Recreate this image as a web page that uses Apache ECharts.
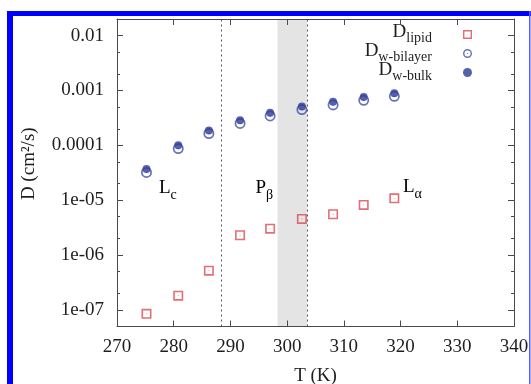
<!DOCTYPE html>
<html>
<head>
<meta charset="utf-8">
<script src="https://cdn.jsdelivr.net/npm/echarts@6/dist/echarts.min.js"></script>
<style>
  html, body { margin: 0; padding: 0; background: #ffffff; }
  #chart { width: 531px; height: 384px; }
</style>
</head>
<body>
<div id="chart"></div>
<script>
// Temperatures (K) of the simulated runs
const temperatures = [275.2, 280.8, 286.2, 291.7, 297.0, 302.6, 308.1, 313.5, 318.9];

// Diffusion coefficients, cm^2/s
const dLipid        = [8.5e-8, 1.82e-7, 5.2e-7, 2.3e-6, 3.03e-6, 4.55e-6, 5.55e-6, 8.2e-6, 1.08e-5];
const dWaterBilayer = [3.2e-5, 8.7e-5, 1.64e-4, 2.5e-4, 3.43e-4, 4.48e-4, 5.45e-4, 6.6e-4, 7.8e-4];
const dWaterBulk    = [3.7e-5, 1.0e-4, 1.87e-4, 2.85e-4, 3.93e-4, 5.1e-4, 6.2e-4, 7.55e-4, 8.9e-4];

// Series subscripts (shown as D_xxx in the key)
const seriesNames = ['lipid', 'w-bilayer', 'w-bulk'];

// Axis ranges
const tRange = [270, 340];
const tStep = 10;
const dRange = [5e-8, 0.02];

// Phase boundaries and the ripple-phase band
const phaseBoundaries = [288.3, 303.5];
const rippleBand = [298.3, 303.5];

// Phase labels: [main letter, subscript]
const phaseLabels = [['L', 'c'], ['P', 'β'], ['L', 'α']];

const FONT = 'Liberation Serif';
const INK = '#1e1e1e';
const FRAME = '#4a4a4a';

// symbols: open square with a centre dot, open ring with a centre dot
const squareSymbol = 'path://M0,0H10V10H0Z M1.6,1.6V8.4H8.4V1.6Z M4.6,4.6H5.4V5.4H4.6Z';
const ringSymbol = 'path://M5,0A5,5 0 1,1 5,10A5,5 0 1,1 5,0Z M5,1.6A3.4,3.4 0 1,0 5,8.4A3.4,3.4 0 1,0 5,1.6Z M4.5,4.5H5.5V5.5H4.5Z';

function pairs(ys) { return temperatures.map((t, i) => [t, ys[i]]); }

function logLabel(v) {
  const e = Math.round(Math.log10(v));
  if (e >= -4) return v.toFixed(-e);
  return '1e-' + String(-e).padStart(2, '0');
}

// minor tick positions (2x and 5x each decade), in log10 units
const minorLogTicks = [];
for (let k = -8; k <= -2; k++) {
  [2, 5].forEach(m => {
    const lv = Math.log10(m * Math.pow(10, k));
    if (lv > Math.log10(dRange[0]) && lv < Math.log10(dRange[1])) minorLogTicks.push(lv);
  });
}

const subRich = {
  m: { fontFamily: FONT, fontSize: 19, lineHeight: 19, padding: [0, 0, 5, 0], color: INK },
  s: { fontFamily: FONT, fontSize: 14, lineHeight: 14, padding: [9, 0, 1, 0], color: INK },
  g: { width: 26, fontSize: 10 }
};

const chart = echarts.init(document.getElementById('chart'), null, { renderer: 'canvas' });

function xAxisDef(pos, labels) {
  return {
    type: 'value', position: pos, min: tRange[0], max: tRange[1], interval: tStep,
    z: 10,
    name: labels ? 'T (K)' : '',
    nameLocation: 'middle', nameGap: 40,
    nameTextStyle: { fontFamily: FONT, fontSize: 19, color: INK },
    axisLine: { show: true, onZero: false, lineStyle: { color: FRAME, width: 1 } },
    axisTick: { show: true, inside: true, length: 6, lineStyle: { color: FRAME } },
    axisLabel: { show: labels, margin: 11, fontFamily: FONT, fontSize: 19, color: INK },
    splitLine: { show: false }
  };
}

function yMajorDef(pos, labels) {
  return {
    type: 'log', logBase: 10, position: pos, min: dRange[0], max: dRange[1],
    z: 10,
    name: labels ? 'D (cm²/s)' : '',
    nameLocation: 'middle', nameGap: 78,
    nameTextStyle: { fontFamily: FONT, fontSize: 19, color: INK, padding: [0, 0, 0, 18] },
    axisLine: { show: true, onZero: false, lineStyle: { color: FRAME, width: 1 } },
    axisTick: { show: true, inside: true, length: 6, lineStyle: { color: FRAME } },
    axisLabel: {
      show: labels, margin: 13, fontFamily: FONT, fontSize: 19, color: INK,
      showMinLabel: false, showMaxLabel: false, formatter: logLabel
    },
    splitLine: { show: false }
  };
}

function yMinorDef(pos) {
  return {
    type: 'value', position: pos,
    min: Math.log10(dRange[0]), max: Math.log10(dRange[1]),
    z: 10,
    axisLine: { show: false },
    axisTick: { show: true, inside: true, length: 3, customValues: minorLogTicks, lineStyle: { color: FRAME } },
    axisLabel: { show: false },
    splitLine: { show: false }
  };
}

const option = {
  animation: false,
  backgroundColor: '#ffffff',
  grid: { left: 117, right: 17, top: 19, bottom: 57.5, containLabel: false, outerBoundsMode: 'none' },
  xAxis: [xAxisDef('bottom', true), xAxisDef('top', false)],
  yAxis: [yMajorDef('left', true), yMajorDef('right', false), yMinorDef('left'), yMinorDef('right')],
  legend: {
    data: seriesNames,
    orient: 'vertical', align: 'right',
    right: 59, top: 22.5, padding: 0,
    itemWidth: 9, itemHeight: 9, itemGap: -5,
    selectedMode: false,
    formatter: n => `{m|D}{s|${n}}{g| }`,
    textStyle: { rich: subRich }
  },
  series: [
    {
      name: 'band', type: 'scatter', data: [], z: 1, silent: true,
      markArea: {
        silent: true,
        itemStyle: { color: '#e4e4e4' },
        data: [[{ xAxis: rippleBand[0] }, { xAxis: rippleBand[1] }]]
      }
    },
    {
      name: 'bounds', type: 'scatter', data: [], z: 2, silent: true,
      markLine: {
        silent: true, symbol: ['none', 'none'],
        label: { show: false },
        lineStyle: { color: '#555555', width: 1, type: [2, 3] },
        data: phaseBoundaries.map(x => ({ xAxis: x }))
      }
    },
    {
      name: seriesNames[0], type: 'scatter', z: 3,
      data: pairs(dLipid),
      symbol: squareSymbol, symbolSize: 10,
      itemStyle: { color: '#dc4a52' },
      emphasis: { disabled: true }
    },
    {
      name: seriesNames[1], type: 'scatter', z: 4,
      data: pairs(dWaterBilayer),
      symbol: ringSymbol, symbolSize: 11,
      itemStyle: { color: '#4350ad' },
      emphasis: { disabled: true }
    },
    {
      name: seriesNames[2], type: 'scatter', z: 5,
      data: pairs(dWaterBulk),
      symbol: 'circle', symbolSize: 8,
      itemStyle: { color: '#2d3a96' },
      emphasis: { disabled: true }
    }
  ],
  graphic: [
    // blue frame around the figure
    { type: 'rect', shape: { x: 7, y: 11, width: 524, height: 5 }, style: { fill: '#0000ff' }, silent: true },
    { type: 'rect', shape: { x: 7, y: 11, width: 6, height: 373 }, style: { fill: '#0000ff' }, silent: true },
    { type: 'rect', shape: { x: 529, y: 11, width: 1.5, height: 373 }, style: { fill: '#5a5aff' }, silent: true },
    // phase labels
    { type: 'text', x: 159, y: 181.5, style: { text: `{m|${phaseLabels[0][0]}}{s|${phaseLabels[0][1]}}`, rich: subRich, verticalAlign: 'top' }, silent: true },
    { type: 'text', x: 255.5, y: 181.5, style: { text: `{m|${phaseLabels[1][0]}}{s|${phaseLabels[1][1]}}`, rich: subRich, verticalAlign: 'top' }, silent: true },
    { type: 'text', x: 403, y: 180.5, style: { text: `{m|${phaseLabels[2][0]}}{s|${phaseLabels[2][1]}}`, rich: subRich, verticalAlign: 'top' }, silent: true }
  ]
};

chart.setOption(option);
</script>
</body>
</html>
